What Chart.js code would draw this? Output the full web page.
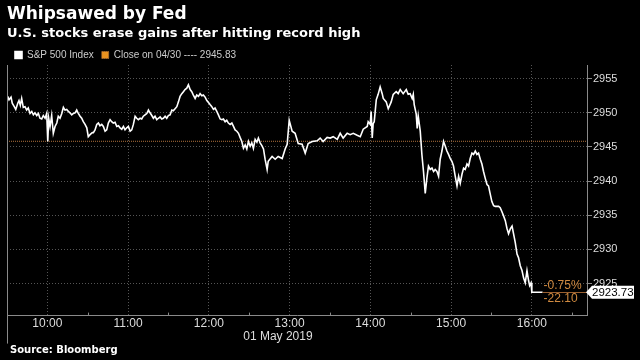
<!DOCTYPE html>
<html><head><meta charset="utf-8">
<script src="https://cdn.jsdelivr.net/npm/chart.js@4.4.1/dist/chart.umd.min.js"></script>
<style>html,body{margin:0;padding:0;background:#000;}#wrap{width:640px;height:360px;position:relative;}</style>
</head><body><div id="wrap"><canvas id="c" width="640" height="360"></canvas></div>
<script>
const titleText = "Whipsawed by Fed";
const subtitleText = "U.S. stocks erase gains after hitting record high";
const sourceText = "Source: Bloomberg";
const dateText = "01 May 2019";
const seriesName = "S&P 500 Index";
const closeName = "Close on 04/30 ---- 2945.83";
const prevClose = 2945.83;
const lastPrice = 2923.73;
const changePct = "-0.75%";
const changeAbs = "-22.10";
// x values are minutes since 09:30
const xTickValues = [30, 90, 150, 210, 270, 330, 390];
const xTickLabels = ["10:00", "11:00", "12:00", "13:00", "14:00", "15:00", "16:00"];
const xMinorValues = [0, 60, 120, 180, 240, 300, 360, 420];
const yTicks = [2925, 2930, 2935, 2940, 2945, 2950, 2955];

const times = [
0.5,1.5,3.0,3.9,5.4,6.5,8.0,8.9,9.9,10.9,
12.1,13.4,14.6,15.8,17.1,18.4,19.6,20.8,22.1,23.3,
24.5,25.8,27.0,28.3,29.5,30.3,31.0,32.0,33.2,34.4,
35.7,37.0,38.1,39.4,40.7,41.9,43.1,44.4,45.6,46.8,
48.1,49.3,50.6,51.8,53.0,54.3,55.5,56.7,58.0,59.3,
60.4,61.7,63.4,64.2,65.4,66.7,67.9,69.1,70.4,71.6,
72.9,74.1,75.3,76.6,77.8,79.0,80.3,81.6,82.8,84.0,
85.3,86.5,87.7,89.0,90.2,91.5,92.7,93.9,95.2,96.4,
97.6,98.9,100.1,101.3,102.6,103.9,105.1,106.3,107.6,108.8,
110.0,111.3,112.5,113.8,115.0,116.2,117.5,118.7,119.9,121.2,
122.5,123.6,124.9,126.2,127.4,128.6,129.9,131.1,132.3,133.6,
134.8,136.1,137.3,138.5,139.8,141.0,142.3,143.5,144.8,145.9,
147.2,148.5,149.7,150.9,152.2,153.4,154.6,155.9,157.1,158.4,
159.6,160.8,162.1,163.3,164.5,165.8,167.1,168.3,169.5,170.8,
172.0,173.2,174.5,175.7,177.0,178.2,179.4,180.7,181.9,183.1,
184.4,185.7,186.8,188.1,189.4,190.6,191.8,193.3,194.1,197.0,
199.3,201.5,204.5,206.7,208.2,209.7,211.9,214.1,216.4,219.3,
221.6,223.8,226.8,230.5,232.7,234.9,237.9,240.2,242.4,245.4,
247.6,249.8,252.8,255.0,257.3,260.2,262.5,264.7,267.7,268.4,
269.9,270.6,271.4,272.1,272.9,274.4,275.8,277.3,278.8,279.6,
281.8,283.3,285.5,287.0,289.2,290.7,292.2,294.4,296.7,298.1,
299.6,301.1,301.9,302.6,304.1,304.8,305.6,307.1,308.3,309.5,
310.8,312.0,313.2,314.5,315.8,317.0,318.2,319.5,320.7,321.9,
323.2,324.4,325.7,326.9,328.1,329.4,330.6,331.8,333.1,334.4,
335.6,336.8,338.1,339.3,340.5,341.8,343.0,344.2,345.5,346.7,
348.0,349.2,350.4,351.7,352.9,354.1,355.4,356.7,357.8,359.1,
360.3,361.6,362.8,364.1,365.3,366.5,367.8,369.0,370.3,371.5,
372.7,374.0,375.3,376.4,377.7,379.0,380.1,381.4,382.7,383.9,
385.1,386.4,387.6,388.4,389.4,390.0,398.0
];
const prices = [
2952.4,2951.9,2952.3,2951.4,2950.9,2950.5,2951.4,2951.8,2951.1,2952.1,
2950.8,2950.9,2950.4,2950.7,2949.9,2950.2,2949.7,2950.0,2949.6,2949.9,
2949.2,2949.1,2949.6,2949.2,2949.9,2945.8,2949.2,2948.0,2949.6,2947.0,
2948.0,2948.5,2949.5,2949.2,2949.9,2950.8,2950.4,2950.5,2950.2,2950.0,
2949.7,2949.9,2950.0,2950.4,2949.9,2949.5,2949.2,2948.7,2948.3,2947.8,
2946.5,2946.8,2947.1,2947.1,2947.5,2948.3,2948.5,2948.1,2948.3,2948.0,
2947.3,2947.5,2948.5,2949.0,2948.7,2948.5,2948.6,2948.0,2948.1,2947.8,
2947.6,2948.0,2947.5,2947.8,2948.0,2947.3,2947.5,2948.3,2949.5,2949.2,
2949.0,2949.2,2949.1,2949.5,2949.7,2949.9,2950.4,2950.0,2949.6,2949.2,
2949.5,2949.0,2949.2,2949.4,2949.1,2949.2,2949.5,2949.2,2949.6,2949.7,
2950.4,2950.3,2950.6,2950.9,2951.6,2952.4,2952.8,2953.1,2953.4,2953.6,
2954.1,2953.4,2953.1,2952.6,2952.1,2952.6,2952.4,2952.8,2952.5,2952.6,
2952.3,2951.8,2951.5,2951.2,2950.9,2950.5,2950.7,2950.2,2949.7,2949.1,
2949.0,2949.1,2948.7,2948.9,2948.5,2948.3,2948.5,2948.0,2947.5,2947.3,
2947.0,2946.4,2945.8,2944.8,2945.3,2944.7,2945.8,2945.1,2945.6,2944.8,
2946.1,2945.7,2946.3,2945.6,2945.2,2944.7,2943.2,2941.7,2942.9,2943.6,
2943.2,2943.6,2943.3,2944.7,2945.4,2948.9,2947.3,2947.0,2945.5,2945.4,
2944.1,2945.5,2945.8,2945.9,2946.3,2945.8,2946.4,2946.3,2946.5,2946.1,
2947.0,2946.3,2947.0,2946.8,2947.0,2946.7,2946.5,2947.6,2948.0,2948.7,
2948.3,2950.2,2946.3,2948.4,2948.7,2951.9,2952.7,2953.8,2952.8,2952.1,
2951.6,2950.6,2951.6,2952.7,2953.1,2952.8,2953.4,2952.8,2953.4,2952.7,
2952.8,2952.1,2952.7,2951.2,2949.8,2947.7,2949.5,2947.3,2943.9,2941.4,
2938.2,2940.4,2942.2,2941.7,2941.9,2941.4,2941.7,2941.4,2940.7,2943.2,
2944.4,2945.8,2945.1,2944.4,2943.9,2943.3,2942.9,2942.2,2940.7,2939.3,
2940.7,2939.7,2941.0,2941.9,2941.7,2942.5,2942.2,2943.3,2944.1,2943.9,
2944.4,2943.9,2944.1,2943.2,2942.5,2941.4,2940.4,2939.5,2939.3,2938.1,
2937.0,2936.4,2936.3,2936.3,2936.3,2936.1,2935.5,2934.9,2934.2,2933.1,
2932.3,2933.0,2933.4,2932.3,2931.0,2929.3,2928.8,2927.6,2926.9,2925.8,
2925.1,2926.9,2925.4,2924.7,2925.1,2923.73,2923.73
];

const X_MIN = 0, X_MAX = 431, Y_MIN = 2920.3, Y_MAX = 2957;
const GRID = '#555555';
const AXIS = '#8a8a8a';
const TICKFONT = {family: 'Liberation Sans', size: 12};
const YFONT = {family: 'Liberation Sans', size: 11};
const ORANGE = '#d08a40';

const extras = {
  id: 'extras',
  afterDraw(chart) {
    const {ctx, chartArea: a, scales: {x, y}} = chart;
    ctx.save();
    // left border extending below the axis
    ctx.strokeStyle = AXIS; ctx.lineWidth = 1;
    ctx.beginPath();
    const lx = Math.round(x.getPixelForValue(X_MIN)) + 0.5;
    ctx.moveTo(lx, a.top); ctx.lineTo(lx, a.bottom + 28); ctx.stroke();
    // minor ticks at half hours
    xMinorValues.forEach(v => {
      const px = Math.round(x.getPixelForValue(v)) + 0.5;
      ctx.beginPath(); ctx.moveTo(px, a.bottom); ctx.lineTo(px, a.bottom - 3); ctx.stroke();
    });
    // date under the axis
    ctx.fillStyle = '#dddddd';
    ctx.font = '12px "Liberation Sans"';
    ctx.textAlign = 'right'; ctx.textBaseline = 'middle';
    ctx.fillText(dateText, x.getPixelForValue(210) + 23, a.bottom + 21);
    // source
    ctx.textAlign = 'left';
    ctx.font = 'bold 10px "DejaVu Sans"';
    ctx.fillStyle = '#ffffff';
    ctx.fillText(sourceText, 10, a.bottom + 35);
    // last price annotations
    const lastT = times[times.length - 1];
    const ex = x.getPixelForValue(lastT);
    const ly = y.getPixelForValue(lastPrice);
    ctx.strokeStyle = '#9a6030';
    ctx.beginPath(); ctx.moveTo(ex, Math.round(ly) + 0.5); ctx.lineTo(a.right, Math.round(ly) + 0.5); ctx.stroke();
    ctx.fillStyle = ORANGE;
    ctx.font = '12px "Liberation Sans"';
    ctx.textAlign = 'left';
    ctx.fillText(changePct, ex + 1, ly - 6);
    ctx.fillText(changeAbs, ex + 1, ly + 7);
    // price tag
    const bx = a.right + 1, bw = 46, bh = 13;
    ctx.fillStyle = '#ffffff';
    ctx.beginPath();
    ctx.moveTo(bx - 2, ly);
    ctx.lineTo(bx + 4, ly - bh / 2);
    ctx.lineTo(bx + bw, ly - bh / 2);
    ctx.lineTo(bx + bw, ly + bh / 2);
    ctx.lineTo(bx + 4, ly + bh / 2);
    ctx.closePath(); ctx.fill();
    ctx.fillStyle = '#000000';
    ctx.font = '11.5px "Liberation Sans"';
    ctx.fillText(lastPrice.toFixed(2), bx + 4, ly + 0.5);
    ctx.restore();
  }
};

new Chart(document.getElementById('c'), {
  type: 'line',
  data: {
    datasets: [
      {
        label: seriesName,
        data: times.map((t, i) => ({x: t, y: prices[i]})),
        borderColor: '#ffffff',
        backgroundColor: '#ffffff',
        borderWidth: 1.6,
        pointRadius: 0,
        tension: 0
      },
      {
        label: closeName,
        data: [{x: X_MIN, y: prevClose}, {x: X_MAX, y: prevClose}],
        borderColor: '#b0703a',
        backgroundColor: '#e8911f',
        borderWidth: 1,
        borderDash: [1, 1],
        pointRadius: 0
      }
    ]
  },
  options: {
    responsive: false,
    animation: false,
    devicePixelRatio: 1,
    layout: {padding: {left: 7, right: 0, top: 2, bottom: 28}},
    plugins: {
      title: {
        display: true, text: titleText, align: 'start', color: '#ffffff',
        font: {family: 'DejaVu Sans', weight: 'bold', size: 17}, padding: {top: 2, bottom: 0}
      },
      subtitle: {
        display: true, text: subtitleText, align: 'start', color: '#ffffff',
        font: {family: 'DejaVu Sans', weight: 'bold', size: 13}, padding: {top: 1, bottom: 1}
      },
      legend: {
        display: true, position: 'top', align: 'start', maxHeight: 23,
        labels: {
          color: '#cccccc', boxWidth: 7, boxHeight: 7, padding: 8,
          font: {family: 'Liberation Sans', size: 10}
        }
      },
      tooltip: {enabled: false}
    },
    scales: {
      x: {
        type: 'linear', min: X_MIN, max: X_MAX,
        afterBuildTicks: s => { s.ticks = xTickValues.map(v => ({value: v})); },
        ticks: {
          color: '#dddddd', font: TICKFONT, padding: 1, maxRotation: 0, autoSkip: false,
          callback: v => { const i = xTickValues.indexOf(v); return i >= 0 ? xTickLabels[i] : ''; }
        },
        grid: {color: GRID, drawTicks: false, lineWidth: 1},
        border: {display: true, color: AXIS, dash: [1, 2]}
      },
      y: {
        position: 'right', min: Y_MIN, max: Y_MAX,
        afterBuildTicks: s => { s.ticks = yTicks.map(v => ({value: v})); },
        afterFit: s => { s.width = 53; },
        ticks: {color: '#dddddd', font: YFONT, padding: 1, callback: v => String(v)},
        grid: {color: GRID, drawTicks: true, tickLength: 5, tickColor: AXIS, tickBorderDash: [], lineWidth: 1},
        border: {display: true, color: AXIS, dash: [1, 2]}
      }
    }
  },
  plugins: [extras]
});
</script>
</body></html>
